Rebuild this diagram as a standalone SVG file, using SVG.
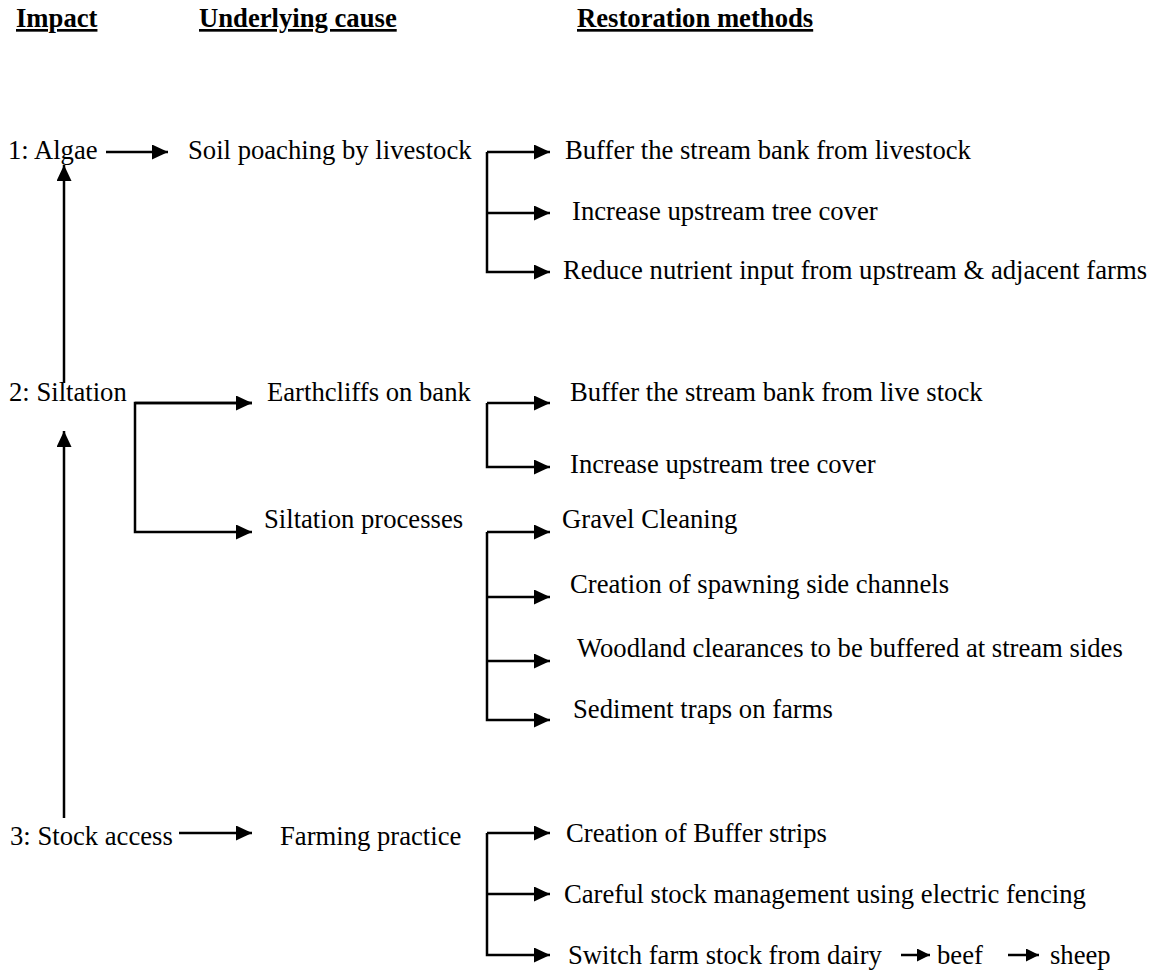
<svg xmlns="http://www.w3.org/2000/svg" width="1158" height="972" viewBox="0 0 1158 972">
<style>
text{font-family:"Liberation Serif","Times New Roman",serif;font-size:26.67px;fill:#000}
.h{font-weight:bold;text-decoration:underline}
.c{fill:none;stroke:#000;stroke-width:2.5}
</style>
<defs>
<marker id="ah" viewBox="0 0 16 15" refX="16" refY="7.5" markerWidth="16" markerHeight="15" markerUnits="userSpaceOnUse" orient="auto"><path d="M0,0 L16,7.5 L0,15 z" fill="#000"/></marker>
<marker id="as" viewBox="0 0 13 13" refX="13" refY="6.5" markerWidth="13" markerHeight="13" markerUnits="userSpaceOnUse" orient="auto"><path d="M0,0 L13,6.5 L0,13 z" fill="#000"/></marker>
</defs>
<rect width="1158" height="972" fill="#fff"/>
<g id="headers">
<text class="h" x="16" y="27">Impact</text>
<text class="h" x="199" y="27">Underlying cause</text>
<text class="h" x="577" y="27">Restoration methods</text>
</g>
<g id="impact1"><text x="8" y="159">1: Algae</text></g>
<g id="impact2"><text x="9" y="401">2: Siltation</text></g>
<g id="impact3"><text x="10" y="845">3: Stock access</text></g>
<g id="cause1"><text x="188" y="159">Soil poaching by livestock</text></g>
<g id="cause2a"><text x="267" y="401">Earthcliffs on bank</text></g>
<g id="cause2b"><text x="264" y="528">Siltation processes</text></g>
<g id="cause3"><text x="280" y="845">Farming practice</text></g>
<g id="r1a"><text x="565" y="159">Buffer the stream bank from livestock</text></g>
<g id="r1b"><text x="572" y="220">Increase upstream tree cover</text></g>
<g id="r1c"><text x="563" y="279">Reduce nutrient input from upstream &amp; adjacent farms</text></g>
<g id="r2a"><text x="570" y="401">Buffer the stream bank from live stock</text></g>
<g id="r2b"><text x="570" y="473">Increase upstream tree cover</text></g>
<g id="r2c"><text x="562" y="528">Gravel Cleaning</text></g>
<g id="r2d"><text x="570" y="593">Creation of spawning side channels</text></g>
<g id="r2e"><text x="577" y="657">Woodland clearances to be buffered at stream sides</text></g>
<g id="r2f"><text x="573" y="718">Sediment traps on farms</text></g>
<g id="r3a"><text x="566" y="842">Creation of Buffer strips</text></g>
<g id="r3b"><text x="564" y="903">Careful stock management using electric fencing</text></g>
<g id="r3c"><text x="568" y="964">Switch farm stock from dairy</text><text x="937" y="964">beef</text><text x="1050" y="964">sheep</text></g>
<g id="connectors" class="c">
<path d="M106,152 H168" marker-end="url(#ah)"/>
<path d="M64,383 V165" marker-end="url(#ah)"/>
<path d="M64,818 V431" marker-end="url(#ah)"/>
<path d="M179,833 H252" marker-end="url(#ah)"/>
<path d="M252,403 H135 V532 H252" marker-end="url(#ah)" marker-start="none"/>
<path d="M135,403 H252" marker-end="url(#ah)"/>
<path d="M487,152 H550" marker-end="url(#ah)"/>
<path d="M487,213 H550" marker-end="url(#ah)"/>
<path d="M487,152 V272 H550" marker-end="url(#ah)"/>
<path d="M487,403 H550" marker-end="url(#ah)"/>
<path d="M487,403 V467 H550" marker-end="url(#ah)"/>
<path d="M487,532 H550" marker-end="url(#ah)"/>
<path d="M487,597 H550" marker-end="url(#ah)"/>
<path d="M487,661 H550" marker-end="url(#ah)"/>
<path d="M487,532 V720 H550" marker-end="url(#ah)"/>
<path d="M487,833 H550" marker-end="url(#ah)"/>
<path d="M487,894 H550" marker-end="url(#ah)"/>
<path d="M487,833 V955 H550" marker-end="url(#ah)"/>
<path d="M901,955 H930" marker-end="url(#as)"/>
<path d="M1008,955 H1039" marker-end="url(#as)"/>
</g>
</svg>
